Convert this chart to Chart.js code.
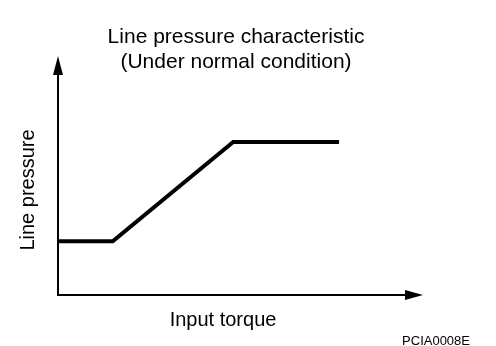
<!DOCTYPE html>
<html>
<head>
<meta charset="utf-8">
<script src="https://cdn.jsdelivr.net/npm/chart.js@4"></script>
<style>
  html, body { margin: 0; padding: 0; background: #fff; }
  #wrap { width: 496px; height: 346px; }
</style>
</head>
<body>
<div id="wrap"><canvas id="pressureChart"></canvas></div>
<script>
// input torque (arbitrary units) and line pressure at each break point
const torque = [0, 1.5, 4.8, 7.7];
const linePressure = [2.25, 2.25, 6.4, 6.4];

const titleLines = ['Line pressure characteristic', '(Under normal condition)'];
const xLabel = 'Input torque';
const yLabel = 'Line pressure';
const figCode = 'PCIA0008E';

const FONT = '"Liberation Sans", Arial, Helvetica, sans-serif';

// axes with arrow heads plus the text around the plot
const axesAndText = {
    id: 'axesAndText',
    afterDraw(chart) {
        const ctx = chart.ctx;
        const a = chart.chartArea;
        ctx.save();
        ctx.strokeStyle = '#000';
        ctx.fillStyle = '#000';
        ctx.lineWidth = 2;

        ctx.beginPath();
        ctx.moveTo(a.left, a.top + 16);
        ctx.lineTo(a.left, a.bottom);
        ctx.lineTo(a.right - 16, a.bottom);
        ctx.stroke();

        // up arrow
        ctx.beginPath();
        ctx.moveTo(a.left, a.top);
        ctx.lineTo(a.left - 5, a.top + 19);
        ctx.lineTo(a.left + 5, a.top + 19);
        ctx.closePath();
        ctx.fill();

        // right arrow
        ctx.beginPath();
        ctx.moveTo(a.right, a.bottom);
        ctx.lineTo(a.right - 18, a.bottom - 5);
        ctx.lineTo(a.right - 18, a.bottom + 5);
        ctx.closePath();
        ctx.fill();

        ctx.textBaseline = 'alphabetic';
        ctx.textAlign = 'center';
        ctx.font = '21px ' + FONT;
        ctx.fillText(titleLines[0], 236, 43);
        ctx.fillText(titleLines[1], 236, 68);

        ctx.font = '20px ' + FONT;
        ctx.fillText(xLabel, 223, 326);

        ctx.save();
        ctx.translate(34, 190);
        ctx.rotate(-Math.PI / 2);
        ctx.fillText(yLabel, 0, 0);
        ctx.restore();

        ctx.font = '13px ' + FONT;
        ctx.textAlign = 'right';
        ctx.fillText(figCode, 470, 345);
        ctx.restore();
    }
};

const ctx = document.getElementById('pressureChart').getContext('2d');
new Chart(ctx, {
    type: 'scatter',
    data: {
        datasets: [{
            data: torque.map((t, i) => ({ x: t, y: linePressure[i] })),
            showLine: true,
            borderColor: '#000',
            borderWidth: 4,
            pointRadius: 0,
            fill: false,
            tension: 0
        }]
    },
    options: {
        responsive: true,
        maintainAspectRatio: false,
        animation: false,
        layout: { padding: { left: 58, right: 73, top: 56, bottom: 51 } },
        scales: {
            x: { type: 'linear', min: 0, max: 10, display: false },
            y: { type: 'linear', min: 0, max: 10, display: false }
        },
        plugins: {
            legend: { display: false },
            tooltip: { enabled: false }
        }
    },
    plugins: [axesAndText]
});
</script>
</body>
</html>
